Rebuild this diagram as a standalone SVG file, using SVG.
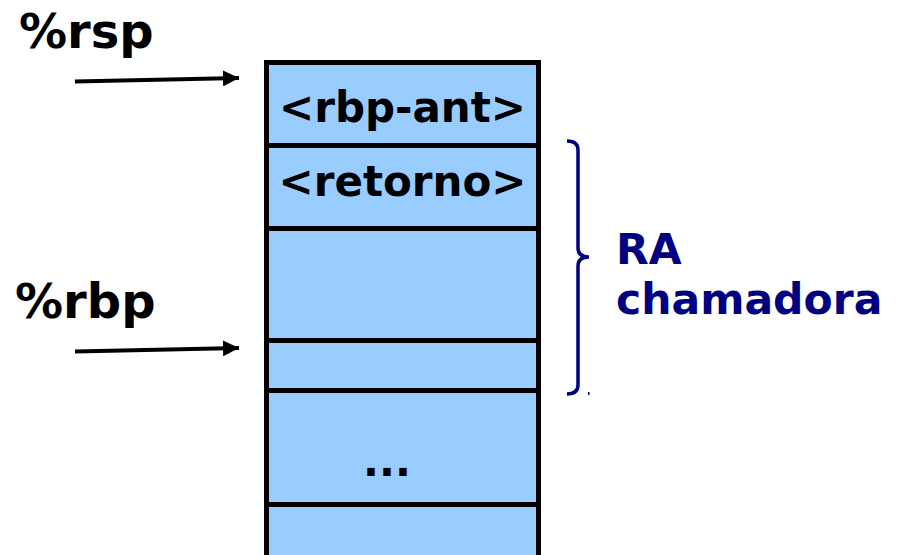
<svg xmlns="http://www.w3.org/2000/svg" width="904" height="555" viewBox="0 0 904 555">
<defs>
<marker id="ah" viewBox="0 0 10 10" refX="10" refY="5" markerWidth="4" markerHeight="4" markerUnits="strokeWidth" orient="auto">
<path d="M0,0 L10,5 L0,10 z" fill="#000"/>
</marker>
<style>
.cell{fill:#99ccff;stroke:#000;stroke-width:5}
.t{font-family:"DejaVu Sans",sans-serif;font-weight:bold;font-size:42px;fill:#000}
.lbl{font-family:"DejaVu Sans",sans-serif;font-weight:bold;font-size:48px;fill:#000}
.ra{font-family:"DejaVu Sans",sans-serif;font-weight:bold;font-size:42.5px;fill:#000080}
.arr{stroke:#000;stroke-width:4;fill:none}
</style>
</defs>
<rect width="904" height="555" fill="#fff"/>
<g id="stack">
<g id="cell-rbp-ant"><rect class="cell" x="266.5" y="62.5" width="272" height="83"/><text class="t" x="402.5" y="122" text-anchor="middle">&lt;rbp-ant&gt;</text></g>
<g id="cell-retorno"><rect class="cell" x="266.5" y="145.5" width="272" height="83"/><text class="t" x="402.5" y="196" text-anchor="middle">&lt;retorno&gt;</text></g>
<g id="cell-3"><rect class="cell" x="266.5" y="228.5" width="272" height="112"/></g>
<g id="cell-4"><rect class="cell" x="266.5" y="340.5" width="272" height="50"/></g>
<g id="cell-dots"><rect class="cell" x="266.5" y="390.5" width="272" height="114"/><text class="t" x="387" y="476" text-anchor="middle">...</text></g>
<g id="cell-6"><rect class="cell" x="266.5" y="504.5" width="272" height="60"/></g>
</g>
<g id="label-rsp"><text class="lbl" x="19" y="48">%rsp</text></g>
<g id="label-rbp"><text class="lbl" x="15" y="318">%rbp</text></g>
<g id="ra-label"><text class="ra" x="616" y="264">RA</text><text class="ra" x="616" y="314">chamadora</text></g>
<g id="connectors">
<line class="arr" x1="75" y1="81.5" x2="239" y2="78" marker-end="url(#ah)"/>
<line class="arr" x1="75" y1="351.5" x2="239" y2="348" marker-end="url(#ah)"/>
<path d="M567,141 Q578,141 578,150 L578,248 Q578,257 589,257 Q578,257 578,266 L578,385 Q578,394 567,394" fill="none" stroke="#000080" stroke-width="3.5"/>
<rect x="588" y="392" width="1.5" height="3" fill="#000080"/>
</g>
</svg>
